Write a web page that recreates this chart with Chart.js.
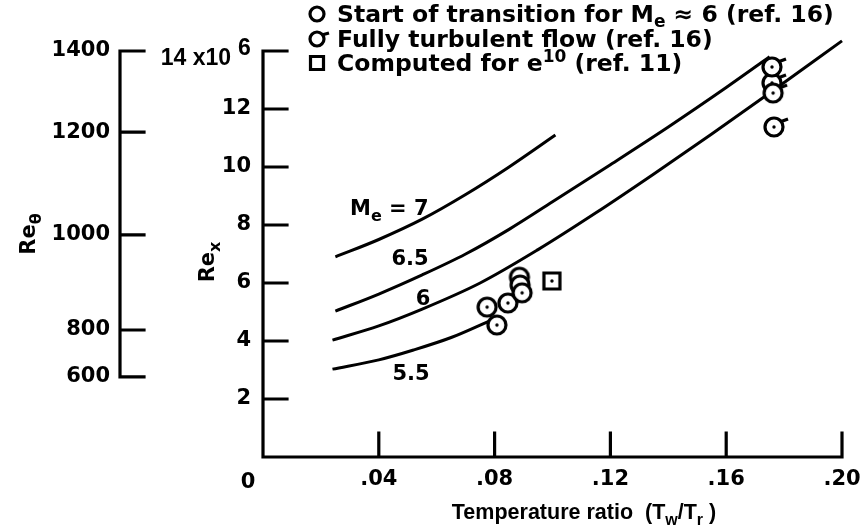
<!DOCTYPE html>
<html>
<head>
<meta charset="utf-8">
<script src="https://cdn.jsdelivr.net/npm/chart.js@4.4.0/dist/chart.umd.min.js"></script>
<style>
  html, body { margin: 0; padding: 0; background: #fff; }
  #wrap { width: 860px; height: 531px; position: relative; }
</style>
</head>
<body>
<div id="wrap"><canvas id="chart"></canvas></div>
<script>
// values
const tempRatioTicks = [0, 0.04, 0.08, 0.12, 0.16, 0.20];
const rexTicks = [0, 2, 4, 6, 8, 10, 12, 14];
const reThetaTicks = [600, 800, 1000, 1200, 1400];
// where each Re_theta tick sits on the Re_x scale (x10^6)
const reThetaAtRex = [2.76, 4.38, 7.66, 11.2, 14.0];

// transition curves, Re_x (x10^6) vs Tw/Tr
const me7Ratio = [0.025, 0.040, 0.055, 0.070, 0.085, 0.101];
const me7Rex = [6.90, 7.50, 8.20, 9.05, 10.0, 11.1];
const me65Ratio = [0.025, 0.040, 0.055, 0.070, 0.085, 0.100, 0.120, 0.140, 0.160, 0.175];
const me65Rex = [5.03, 5.62, 6.28, 7.00, 7.85, 8.80, 10.08, 11.38, 12.74, 13.80];
const me6Ratio = [0.024, 0.040, 0.055, 0.075, 0.095, 0.115, 0.135, 0.155, 0.175, 0.200];
const me6Rex = [4.03, 4.52, 5.10, 6.00, 7.15, 8.42, 9.76, 11.14, 12.55, 14.35];
const me55Ratio = [0.024, 0.040, 0.052, 0.065, 0.078];
const me55Rex = [3.03, 3.35, 3.69, 4.12, 4.68];

// data points
const transitionRatio = [0.0774, 0.0808, 0.0846, 0.0886, 0.0888, 0.0895];
const transitionRex = [5.17, 4.55, 5.31, 6.20, 5.93, 5.66];
const turbulentRatio = [0.1758, 0.1762, 0.1758, 0.1765];
const turbulentRex = [12.90, 12.55, 13.45, 11.38];
const computedRatio = [0.0998];
const computedRex = [6.07];

const FONT = '"DejaVu Sans", "Liberation Sans", Arial, sans-serif';
const NARROW = '"Liberation Sans", Arial, Helvetica, sans-serif';

function pts(xs, ys) {
  return xs.map((x, i) => ({ x: x, y: ys[i] }));
}

function drawMarker(g, x, y, kind, dot, r) {
  g.save();
  g.lineWidth = 3.2;
  g.strokeStyle = '#000';
  g.fillStyle = '#fff';
  g.beginPath();
  if (kind === 'square') {
    g.rect(x - r, y - r, 2 * r, 2 * r);
  } else {
    g.arc(x, y, r, 0, Math.PI * 2);
  }
  g.fill();
  g.stroke();
  if (kind === 'flag') {
    g.beginPath();
    g.moveTo(x + r * 0.8, y - r * 0.6);
    g.lineTo(x + r + 5, y - r + 1);
    g.stroke();
  }
  if (dot) {
    g.fillStyle = '#000';
    g.beginPath();
    g.arc(x, y, 1.7, 0, Math.PI * 2);
    g.fill();
  }
  g.restore();
}

function markerImage(kind) {
  const c = document.createElement('canvas');
  c.width = 36; c.height = 36;
  drawMarker(c.getContext('2d'), 18, 18, kind, true, kind === 'square' ? 8 : 9);
  return c;
}

// text made of runs: [text, size, dy, family]
function drawRuns(ctx, x, y, runs, align) {
  const fontOf = r => 'bold ' + r[1] + 'px ' + (r[3] || FONT);
  const widths = runs.map(r => {
    ctx.font = fontOf(r);
    return ctx.measureText(r[0]).width;
  });
  const w = widths.reduce((a, b) => a + b, 0);
  let cx = align === 'right' ? x - w : align === 'center' ? x - w / 2 : x;
  ctx.textAlign = 'left';
  ctx.textBaseline = 'alphabetic';
  ctx.fillStyle = '#000';
  runs.forEach((r, i) => {
    ctx.font = fontOf(r);
    ctx.fillText(r[0], cx, y + (r[2] || 0));
    cx += widths[i];
  });
}

const axesPlugin = {
  id: 'axesPlugin',
  beforeDatasetsDraw(chart) {
    const ctx = chart.ctx;
    const xs = chart.scales.x, ys = chart.scales.y, ts = chart.scales.y2;
    const x0 = xs.getPixelForValue(0), y0 = ys.getPixelForValue(0);
    const tick = 24;
    ctx.save();
    ctx.strokeStyle = '#000';
    ctx.lineWidth = 3.2;
    ctx.lineCap = 'square';
    ctx.beginPath();
    // Re_x axis and x axis
    ctx.moveTo(x0, ys.getPixelForValue(14));
    ctx.lineTo(x0, y0);
    ctx.lineTo(xs.getPixelForValue(0.20), y0);
    tempRatioTicks.slice(1).forEach(v => {
      const px = xs.getPixelForValue(v);
      ctx.moveTo(px, y0);
      ctx.lineTo(px, y0 - tick);
    });
    rexTicks.slice(1).forEach(v => {
      const py = ys.getPixelForValue(v);
      ctx.moveTo(x0, py);
      ctx.lineTo(x0 + tick, py);
    });
    // Re_theta axis
    const tx = ts.right;
    ctx.moveTo(tx, ts.getPixelForValue(reThetaAtRex[0]));
    ctx.lineTo(tx, ts.getPixelForValue(reThetaAtRex[reThetaAtRex.length - 1]));
    reThetaAtRex.forEach(v => {
      const py = ts.getPixelForValue(v);
      ctx.moveTo(tx, py);
      ctx.lineTo(tx + tick, py);
    });
    ctx.stroke();
    ctx.restore();
  },
  afterDraw(chart) {
    const ctx = chart.ctx;
    const xs = chart.scales.x, ys = chart.scales.y;
    ctx.save();
    // corner zero and top Re_x label
    drawRuns(ctx, xs.getPixelForValue(0) - 15, ys.getPixelForValue(0) + 31, [['0', 21]], 'center');
    drawRuns(ctx, 231, ys.getPixelForValue(14) + 14, [['14 x10', 23, 0, NARROW]], 'right');
    drawRuns(ctx, 238, ys.getPixelForValue(14) + 4, [['6', 23, 0, NARROW]], 'left');
    // axis titles
    drawRuns(ctx, 584, 519, [['Temperature ratio  (T', 21.5, 0, NARROW], ['w', 16, 6, NARROW], ['/T', 21.5, 0, NARROW], ['r', 16, 6, NARROW], [' )', 21.5, 0, NARROW]], 'center');
    ctx.save();
    ctx.translate(35, 234);
    ctx.rotate(-Math.PI / 2);
    drawRuns(ctx, 0, 0, [['Re', 21], ['\u03b8', 16, 6]], 'center');
    ctx.restore();
    ctx.save();
    ctx.translate(214, 262);
    ctx.rotate(-Math.PI / 2);
    drawRuns(ctx, 0, 0, [['Re', 21], ['x', 16, 6]], 'center');
    ctx.restore();
    // curve labels
    drawRuns(ctx, 350, 215, [['M', 21], ['e', 16, 6], [' = 7', 21]], 'left');
    drawRuns(ctx, 410, 265, [['6.5', 21]], 'center');
    drawRuns(ctx, 423, 305, [['6', 21]], 'center');
    drawRuns(ctx, 411, 380, [['5.5', 21]], 'center');
    // legend
    drawMarker(ctx, 317, 14, 'circle', false, 7);
    drawRuns(ctx, 337, 22, [['Start of transition for M', 23.5], ['e', 17, 5], [' \u2248 6 (ref. 16)', 23.5]], 'left');
    drawMarker(ctx, 317, 39, 'flag', false, 7);
    drawRuns(ctx, 337, 47, [['Fully turbulent flow (ref. 16)', 23.5]], 'left');
    drawMarker(ctx, 317, 63, 'square', false, 6.5);
    drawRuns(ctx, 337, 71, [['Computed for e', 23.5], ['10', 17, -9], [' (ref. 11)', 23.5]], 'left');
    ctx.restore();
  }
};

const lineStyle = {
  showLine: true,
  borderColor: '#000',
  borderWidth: 3,
  pointRadius: 0,
  fill: false,
  cubicInterpolationMode: 'monotone',
  clip: false,
  order: 2
};

const tickFont = { family: FONT, size: 21, weight: 'bold' };

const ctx = document.getElementById('chart').getContext('2d');

const chart = new Chart(ctx, {
  type: 'scatter',
  data: {
    datasets: [
      { label: 'Computed for e10 (ref. 11)', data: pts(computedRatio, computedRex), pointStyle: markerImage('square'), clip: false, order: 0 },
      { label: 'Start of transition', data: pts(transitionRatio, transitionRex), pointStyle: markerImage('circle'), clip: false, order: 0 },
      { label: 'Fully turbulent flow', data: pts(turbulentRatio, turbulentRex), pointStyle: markerImage('flag'), clip: false, order: 0 },
      Object.assign({ label: 'Me = 7', data: pts(me7Ratio, me7Rex) }, lineStyle),
      Object.assign({ label: 'Me = 6.5', data: pts(me65Ratio, me65Rex) }, lineStyle),
      Object.assign({ label: 'Me = 6', data: pts(me6Ratio, me6Rex) }, lineStyle),
      Object.assign({ label: 'Me = 5.5', data: pts(me55Ratio, me55Rex) }, lineStyle)
    ]
  },
  options: {
    responsive: true,
    maintainAspectRatio: false,
    animation: false,
    events: [],
    layout: { padding: { top: 51, right: 18, bottom: 0, left: 0 } },
    plugins: { legend: { display: false }, tooltip: { enabled: false } },
    scales: {
      x: {
        type: 'linear',
        min: 0,
        max: 0.20,
        afterBuildTicks: s => { s.ticks = tempRatioTicks.map(v => ({ value: v })); },
        afterFit: s => { s.height = 74; s.paddingLeft = 0; s.paddingRight = 0; },
        ticks: {
          color: '#000',
          padding: 10,
          font: tickFont,
          callback: v => v === 0 ? '' : v.toFixed(2).replace(/^0/, '')
        },
        grid: { display: false, drawTicks: false },
        border: { display: false }
      },
      y: {
        type: 'linear',
        position: 'left',
        weight: 0,
        min: 0,
        max: 14,
        afterBuildTicks: s => { s.ticks = rexTicks.map(v => ({ value: v })); },
        afterFit: s => { s.width = 143; },
        ticks: {
          color: '#000',
          padding: 12,
          font: tickFont,
          callback: v => (v === 0 || v === 14) ? '' : String(v)
        },
        grid: { display: false, drawTicks: false },
        border: { display: false }
      },
      y2: {
        type: 'linear',
        position: 'left',
        weight: 1,
        min: 0,
        max: 14,
        afterBuildTicks: s => { s.ticks = reThetaAtRex.map(v => ({ value: v })); },
        afterFit: s => { s.width = 120; },
        ticks: {
          color: '#000',
          padding: 10,
          autoSkip: false,
          font: tickFont,
          callback: (v, i) => String(reThetaTicks[i])
        },
        grid: { display: false, drawTicks: false },
        border: { display: false }
      }
    }
  },
  plugins: [axesPlugin]
});
</script>
</body>
</html>
